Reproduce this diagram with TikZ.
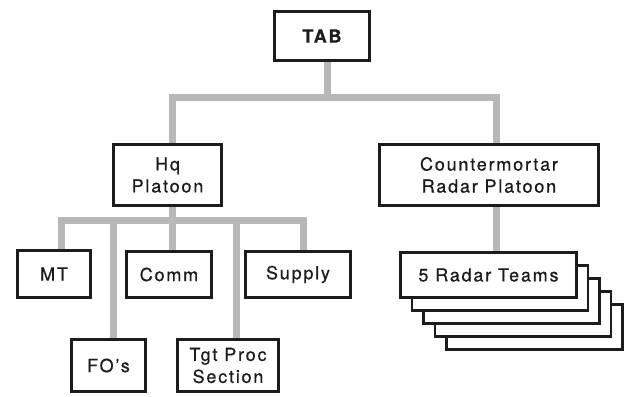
\documentclass[tikz,border=0pt]{standalone}
\usepackage{fontspec}
\setmainfont{TeX Gyre Heros}[LetterSpace=10,FakeBold=0.6]
\usetikzlibrary{backgrounds}
\definecolor{conngray}{HTML}{B8B8B8}
\definecolor{inkblack}{HTML}{1C1C1C}
\begin{document}
\begin{tikzpicture}[x=1pt,y=-1pt,
  box/.style={draw=inkblack, line width=2.8pt, fill=white, inner sep=0pt,
    align=center, text=inkblack, font=\fontsize{18}{22}\selectfont},
  conn/.style={draw=conngray, line width=7pt, line join=miter}]
\useasboundingbox (0,0) rectangle (628,396);
% boxes
\node[box, minimum width=95, minimum height=49, font=\fontsize{18}{22}\selectfont\bfseries] (tab) at (322,36) {TAB};
\node[box, minimum width=108, minimum height=61] (hq) at (167.5,175) {Hq\\Platoon};
\node[box, minimum width=219, minimum height=61] (cm) at (489,175) {Countermortar\\Radar Platoon};
\node[box, minimum width=73, minimum height=47] (mt) at (54,274) {MT};
\node[box, minimum width=85, minimum height=46] (comm) at (169,274.5) {Comm};
\node[box, minimum width=105, minimum height=46] (supply) at (298,274.5) {Supply};
\node[box, minimum width=74, minimum height=52] (fos) at (108.5,365.5) {FO's};
\node[box, minimum width=101, minimum height=52] (tgt) at (228,365.5) {Tgt Proc\\Section};
\node[box, minimum width=176, minimum height=45] (r4) at (534.5,327) {};
\node[box, minimum width=176, minimum height=45] (r3) at (523,314) {};
\node[box, minimum width=176, minimum height=45] (r2) at (511.5,301) {};
\node[box, minimum width=176, minimum height=45] (r1) at (500,288) {};
\node[box, minimum width=176, minimum height=45] (radar) at (488.5,275) {5 Radar Teams};
% junctions
\coordinate (t1) at (327,97);
\coordinate (b1) at (172,97);
\coordinate (b2) at (496,97);
\coordinate (l1) at (61,220);
\coordinate (l2) at (113,220);
\coordinate (l3) at (172,220);
\coordinate (l4) at (236,220);
\coordinate (l5) at (303,220);
\begin{scope}[on background layer]
\fill[white] (0,0) rectangle (628,396);
\draw[conn] (tab.south -| t1) -- (t1);
\draw[conn] (hq.north -| b1) -- (b1) -- (b2) -- (cm.north -| b2);
\draw[conn] (cm.south -| b2) -- (radar.north -| b2);
\draw[conn] (hq.south -| l3) -- (comm.north -| l3);
\draw[conn] (mt.north -| l1) -- (l1) -- (l5) -- (supply.north -| l5);
\draw[conn] (l2) -- (fos.north -| l2);
\draw[conn] (l4) -- (tgt.north -| l4);
\end{scope}
\end{tikzpicture}
\end{document}
